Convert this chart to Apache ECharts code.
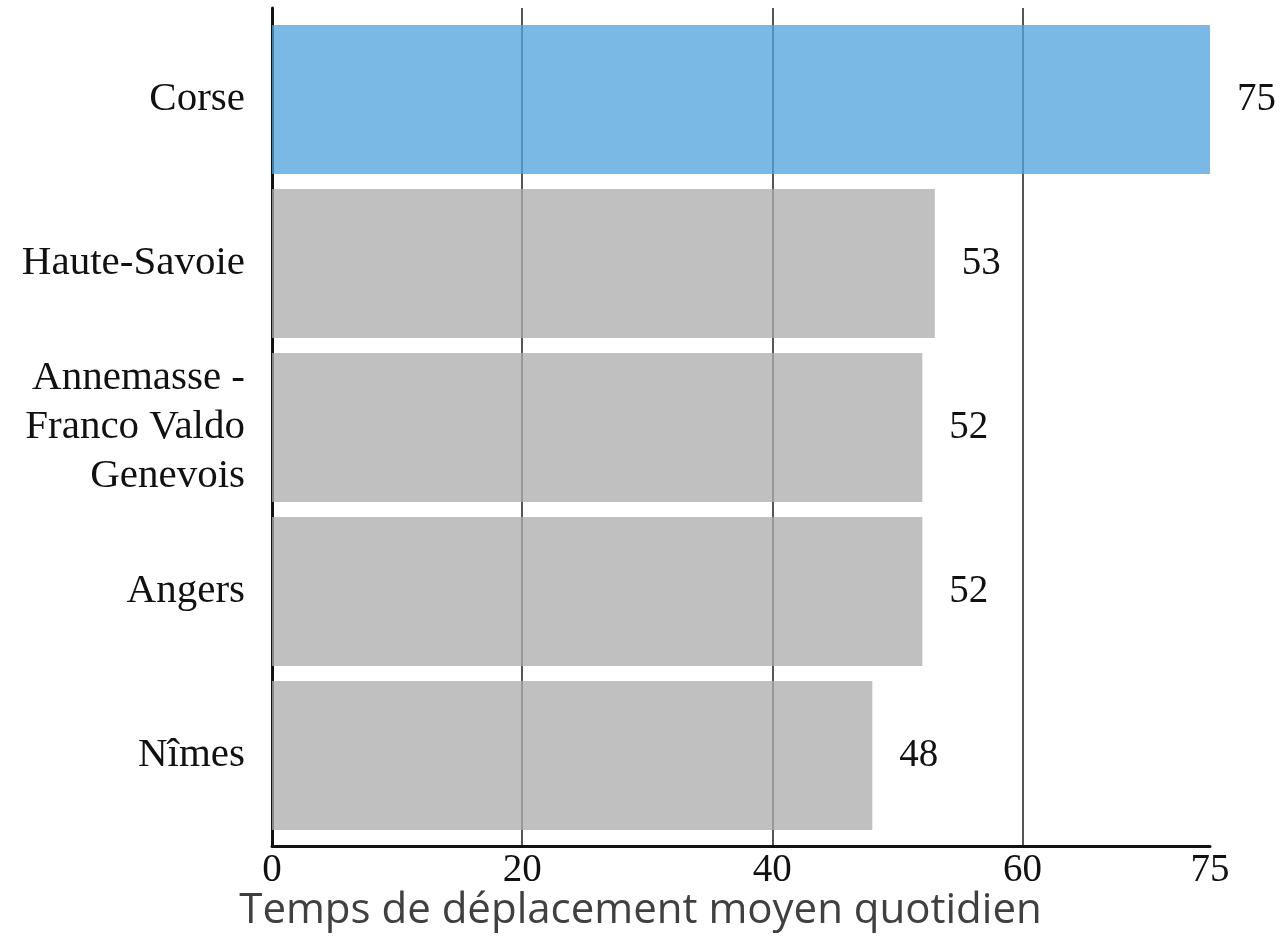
<!DOCTYPE html>
<html>
<head>
<meta charset="utf-8">
<script src="https://cdn.jsdelivr.net/npm/echarts@6/dist/echarts.min.js"></script>
<style>
html,body{margin:0;padding:0;background:#fff;}
#chart{width:1281px;height:937px;}
</style>
</head>
<body>
<div id="chart"></div>
<script>
const categories = ["Corse", "Haute-Savoie", "Annemasse -\nFranco Valdo\nGenevois", "Angers", "Nîmes"];
const values = [75, 53, 52, 52, 48];
const xTicks = [0, 20, 40, 60, 75];
const axisTitle = "Temps de déplacement moyen quotidien";

const highlight = "Corse";
const chart = echarts.init(document.getElementById('chart'));
const serif = '"Liberation Serif", "Times New Roman", serif';

const option = {
  animation: false,
  backgroundColor: '#ffffff',
  title: {
    text: axisTitle,
    left: 'center',
    top: 885,
    textStyle: { fontFamily: '"Open Sans", "Noto Sans", sans-serif', fontSize: 42, fontWeight: 'normal', color: '#404040' }
  },
  grid: [
    { left: 272, right: 71, top: 17.5, bottom: 99.5 },
    { left: 272, right: 71, top: 8, bottom: 91 }
  ],
  xAxis: [
    { gridIndex: 0, type: 'value', min: 0, max: 75, show: false },
    {
      gridIndex: 1, type: 'value', min: xTicks[0], max: xTicks[xTicks.length - 1], interval: 20,
      axisLine: { show: true, lineStyle: { color: '#111', width: 3 } },
      axisTick: { show: false },
      axisLabel: { show: true, margin: 5, fontFamily: serif, fontSize: 39, color: '#111',
        customValues: xTicks },
      splitLine: { show: true, showMaxLine: false, lineStyle: { color: '#555', width: 2 } }
    }
  ],
  yAxis: [
    {
      gridIndex: 0, type: 'category', inverse: true, data: categories,
      axisLine: { show: false }, axisTick: { show: false },
      axisLabel: { margin: 27, fontFamily: serif, fontSize: 41, color: '#111', lineHeight: 49, align: 'right', padding: [6, 0, 0, 0] },
      splitLine: { show: false }
    },
    {
      gridIndex: 1, type: 'value', min: 0, max: 1,
      axisLine: { show: true, lineStyle: { color: '#111', width: 3 } },
      axisTick: { show: false }, axisLabel: { show: false }, splitLine: { show: false }
    }
  ],
  series: [{
    type: 'bar',
    xAxisIndex: 0, yAxisIndex: 0,
    barCategoryGap: '9%',
    data: values.map((v, i) => ({
      value: v,
      itemStyle: { color: categories[i] === highlight ? 'rgba(82,164,223,0.77)' : 'rgba(173,173,173,0.77)' }
    })),
    label: {
      show: true, position: 'right', distance: 27,
      fontFamily: serif, fontSize: 39, color: '#111'
    }
  }]
};
chart.setOption(option);
</script>
</body>
</html>
